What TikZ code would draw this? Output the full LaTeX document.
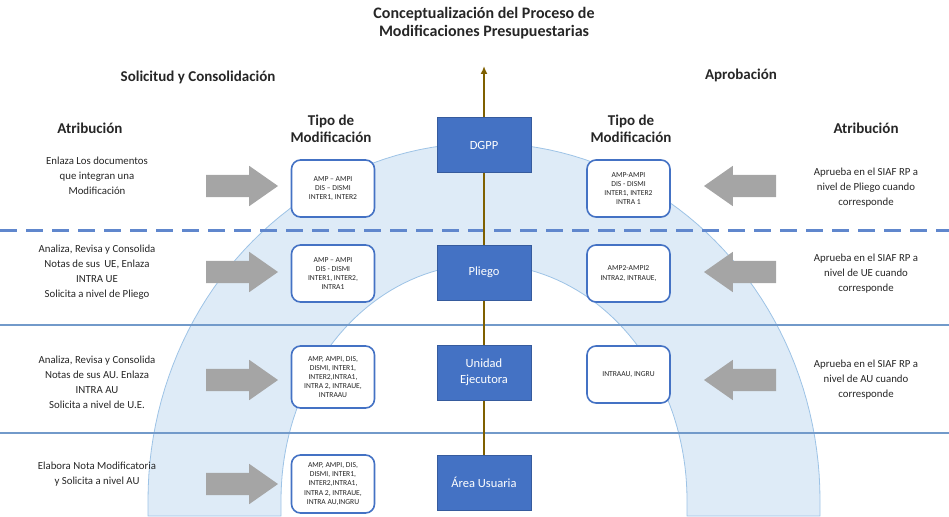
\documentclass[tikz,border=0pt]{standalone}
\usepackage{fontspec}
\setmainfont{Carlito}
\usetikzlibrary{shapes.arrows,arrows.meta}
\definecolor{boxblue}{HTML}{4472C4}
\definecolor{archfill}{HTML}{DEEBF7}
\definecolor{archline}{HTML}{9DC3E6}
\definecolor{linblue}{HTML}{4F81BD}
\definecolor{brownarr}{HTML}{7F6000}
\definecolor{grayarr}{HTML}{A5A5A5}
\definecolor{txt}{HTML}{262626}
\tikzset{
  headtxt/.style={font=\bfseries\fontsize{15}{17}\selectfont, text=txt, align=center, inner sep=0},
  smalltxt/.style={font=\fontsize{10.8}{15}\selectfont, text=txt, align=center, inner sep=0},
  levelbox/.style={fill=boxblue, draw=boxblue!80!black, line width=0.6pt, text=white, minimum width=94pt, minimum height=55pt, align=center, inner sep=0, font=\fontsize{12.5}{16}\selectfont},
  tipobox/.style={fill=white, draw=boxblue, line width=1.6pt, rounded corners=9pt, minimum width=83pt, minimum height=57pt, align=center, inner sep=0, font=\fontsize{7.6}{9.2}\selectfont, text=txt},
  rarrow/.style={single arrow, fill=grayarr, draw=none, minimum height=72pt, inner xsep=0pt, inner ysep=11pt, single arrow head extend=9pt, single arrow tip angle=70},
  larrow/.style={rarrow, shape border rotate=180},
}
\begin{document}
\begin{tikzpicture}[x=1pt,y=-1pt]
\useasboundingbox (0,0) rectangle (949,516);
% arch
\path[fill=archfill, draw=archline, line width=0.8pt]
  (148,516) -- plot[domain=180:0,samples=90] ({484+336*cos(\x)},{500-357*sin(\x)})
  -- (820,516) -- (687,516)
  -- plot[domain=0:180,samples=90] ({484+203*cos(\x)},{500-236*sin(\x)})
  -- (281,516) -- cycle;
% horizontal separators
\coordinate (l1a) at (0,230); \coordinate (l1b) at (949,230);
\coordinate (l2a) at (0,325); \coordinate (l2b) at (949,325);
\coordinate (l3a) at (0,433); \coordinate (l3b) at (949,433);
\draw[boxblue!85!white, line width=3pt, dash pattern=on 17pt off 9pt] (l1a) -- (l1b);
\draw[linblue!80!white, line width=2.6pt] (l2a) -- (l2b);
\draw[linblue!80!white, line width=2.6pt] (l3a) -- (l3b);
% vertical arrow
\coordinate (vbot) at (484,510);
\coordinate (vtop) at (484,66);
\draw[brownarr, line width=1.6pt, -{Latex[length=8pt,width=7pt]}] (vbot) -- (vtop);
% titles
\node[headtxt, font=\bfseries\fontsize{16}{18}\selectfont] (title) at (484,23) {Conceptualización del Proceso de\\Modificaciones Presupuestarias};
\node[headtxt] (sol) at (198,77) {Solicitud y Consolidación};
\node[headtxt] (apr) at (741,75) {Aprobación};
\node[headtxt] (atl) at (90,128) {Atribución};
\node[headtxt] (atr) at (866,128) {Atribución};
\node[headtxt] (tml) at (331,129) {Tipo de\\Modificación};
\node[headtxt] (tmr) at (631,129) {Tipo de\\Modificación};
% level boxes
\node[levelbox] (dgpp) at (484,145) {DGPP};
\node[levelbox] (pliego) at (484,272.5) {Pliego};
\node[levelbox] (ue) at (484,372.5) {Unidad\\Ejecutora};
\node[levelbox] (au) at (484,482.5) {Área Usuaria};
% tipo boxes left
\node[tipobox] (bl1) at (333,188.5) {AMP – AMPI\\DIS – DISMI\\INTER1, INTER2};
\node[tipobox] (bl2) at (333,273.5) {AMP – AMPI\\DIS - DISMI\\INTER1, INTER2,\\INTRA1};
\node[tipobox, minimum height=62pt] (bl3) at (333,377) {AMP, AMPI, DIS,\\DISMI, INTER1,\\INTER2,INTRA1,\\INTRA 2, INTRAUE,\\INTRAAU};
\node[tipobox, minimum height=58pt] (bl4) at (333,484) {AMP, AMPI, DIS,\\DISMI, INTER1,\\INTER2,INTRA1,\\INTRA 2, INTRAUE,\\INTRA AU,INGRU};
% tipo boxes right
\node[tipobox] (br1) at (628.5,188.5) {AMP-AMPI\\DIS - DISMI\\INTER1, INTER2\\INTRA 1};
\node[tipobox] (br2) at (628.5,273.5) {AMP2-AMPI2\\INTRA2, INTRAUE,};
\node[tipobox] (br3) at (628.5,374.5) {INTRAAU, INGRU};
% gray arrows
\node[rarrow] (al1) at (234,186) {};
\node[rarrow] (al2) at (234,272) {};
\node[rarrow] (al3) at (234,380) {};
\node[rarrow] (al4) at (234,484) {};
\node[larrow] (ar1) at (748,186) {};
\node[larrow] (ar2) at (748,272) {};
\node[larrow] (ar3) at (748,380) {};
% left texts
\node[smalltxt] (tl1) at (97,176) {Enlaza Los documentos\\que integran una\\Modificación};
\node[smalltxt] (tl2) at (97,272) {Analiza, Revisa y Consolida\\Notas de sus \,UE, Enlaza\\INTRA UE\\Solicita a nivel de Pliego};
\node[smalltxt] (tl3) at (97,382) {Analiza, Revisa y Consolida\\Notas de sus AU. Enlaza\\INTRA AU\\Solicita a nivel de U.E.};
\node[smalltxt] (tl4) at (97,474) {Elabora Nota Modificatoria\\y Solicita a nivel AU};
% right texts
\node[smalltxt] (tr1) at (866,188) {Aprueba en el SIAF RP a\\nivel de Pliego cuando\\corresponde};
\node[smalltxt] (tr2) at (866,274) {Aprueba en el SIAF RP a\\nivel de UE cuando\\corresponde};
\node[smalltxt] (tr3) at (866,380) {Aprueba en el SIAF RP a\\nivel de AU cuando\\corresponde};
\end{tikzpicture}
\end{document}
